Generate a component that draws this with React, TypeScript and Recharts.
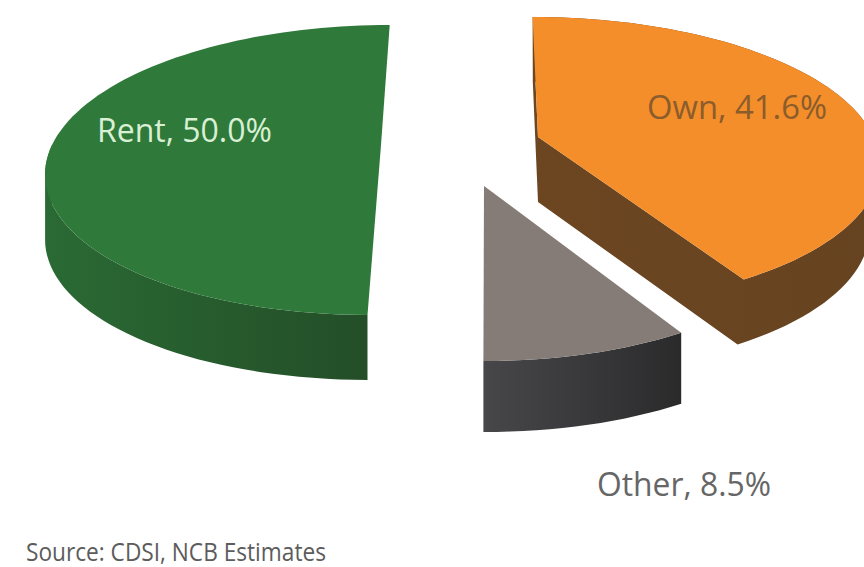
import React from 'react';
import { PieChart, Pie } from 'recharts';

const tenure = ['Rent', 'Other', 'Own'];
const shares = [50.0, 8.5, 41.6];
const topColors = ['#2f7a3a', '#857c78', '#f48e2a'];
const wallColors = [
  ['#2a6a34', '#234c27'],
  ['#47474a', '#2b2a2b'],
  ['#6c4621', '#664320'],
];
const labelColors = ['#d9f0d4', '#666666', '#8b5c2c'];

const pieData = tenure.map((name, i) => ({ name, value: shares[i] }));

// Perspective of the tilted disc: back edge looks shorter than the front edge
const DISC_HEIGHT = 140.7;
const PERSPECTIVE = 0.172;

// Per-slice explode offset and small corrections
const sliceLayout = [
  { dx: 0, dy: 0, radius: 1, yScale: 1, shear: -0.0724, depth: 65, taper: 0, cutWalls: false },
  { dx: 103, dy: 41, radius: 1.006, yScale: 1.03, shear: 0.004, depth: 71, taper: 0, cutWalls: false },
  { dx: 157, dy: -8, radius: 1.02, yScale: 1, shear: 0.045, depth: 65, taper: -0.03, cutWalls: true },
];

const labelLayout = [
  { x: 97, y: 142, width: 175 },
  { x: 597, y: 496, width: 174 },
  { x: 647, y: 119, width: 180 },
];

const rad = Math.PI / 180;

const SliceShape = (props: any) => {
  const { cx, cy, outerRadius, startAngle, endAngle, index } = props;
  const lay = sliceLayout[index];
  const ox = cx + lay.dx;
  const oy = cy + lay.dy;

  const project = (deg: number) => {
    const u = Math.cos(deg * rad);
    const v = -Math.sin(deg * rad);
    const w = 1 - PERSPECTIVE * v;
    const py = (DISC_HEIGHT * v * lay.yScale) / w;
    const px = (outerRadius * lay.radius * u) / w + lay.shear * py;
    return [ox + px, oy + py];
  };

  // Bottom rim of the slab, pulled in a little toward the centre on the Own slice
  const drop = (p: number[]) => [p[0] + lay.taper * (p[0] - ox), p[1] + lay.depth];

  const outline: number[][] = [[ox, oy]];
  const steps = Math.ceil(Math.abs(endAngle - startAngle) / 2);
  for (let s = 0; s <= steps; s++) {
    outline.push(project(startAngle + ((endAngle - startAngle) * s) / steps));
  }

  // Side walls: one quad per outline edge, all wound the same way
  let wall = '';
  outline.forEach((a, i) => {
    const isCutEdge = i === 0 || i === outline.length - 1;
    const b = outline[(i + 1) % outline.length];
    // Rent and Other only show their front rim
    if (!lay.cutWalls && (isCutEdge || Math.max(a[1], b[1]) < oy)) return;
    const q = b[0] >= a[0] ? [a, b, drop(b), drop(a)] : [a, drop(a), drop(b), b];
    wall += `M${q.map((p) => `${p[0].toFixed(1)},${p[1].toFixed(1)}`).join('L')}Z`;
  });
  const top = `M${outline.map((p) => `${p[0].toFixed(1)},${p[1].toFixed(1)}`).join('L')}Z`;

  const xs = outline.map((p) => p[0]);
  const gradientId = `wall-${index}`;

  return (
    <g>
      <defs>
        <linearGradient
          id={gradientId}
          gradientUnits="userSpaceOnUse"
          x1={Math.min(...xs)}
          x2={Math.max(...xs)}
          y1={0}
          y2={0}
        >
          <stop offset="0%" stopColor={wallColors[index][0]} />
          <stop offset="100%" stopColor={wallColors[index][1]} />
        </linearGradient>
      </defs>
      <path d={wall} fill={`url(#${gradientId})`} />
      <path d={top} fill={topColors[index]} />
    </g>
  );
};

const renderLabel = (props: any) => {
  const { index, name, value } = props;
  const pos = labelLayout[index];
  return (
    <text
      x={pos.x}
      y={pos.y}
      fill={labelColors[index]}
      fontFamily="'Open Sans', sans-serif"
      fontSize={32}
      textLength={pos.width}
      lengthAdjust="spacingAndGlyphs"
    >
      {`${name}, ${Number(value).toFixed(1)}%`}
    </text>
  );
};

export default function App() {
  return (
    <div style={{ position: 'absolute', left: 0, top: 0, width: 864, height: 567, overflow: 'hidden', background: '#fff' }}>
      <PieChart width={864} height={567} margin={{ top: 0, right: 0, bottom: 0, left: 0 }}>
        <Pie
          data={pieData}
          dataKey="value"
          nameKey="name"
          cx={381}
          cy={145}
          outerRadius={329}
          startAngle={90}
          endAngle={450}
          stroke="none"
          label={renderLabel}
          labelLine={false}
          shape={SliceShape}
          isAnimationActive={false}
        />
        <text
          x={26}
          y={561}
          fill="#5c5c5c"
          fontFamily="'Open Sans', sans-serif"
          fontSize={25}
          textLength={300}
          lengthAdjust="spacingAndGlyphs"
        >
          Source: CDSI, NCB Estimates
        </text>
      </PieChart>
    </div>
  );
}
